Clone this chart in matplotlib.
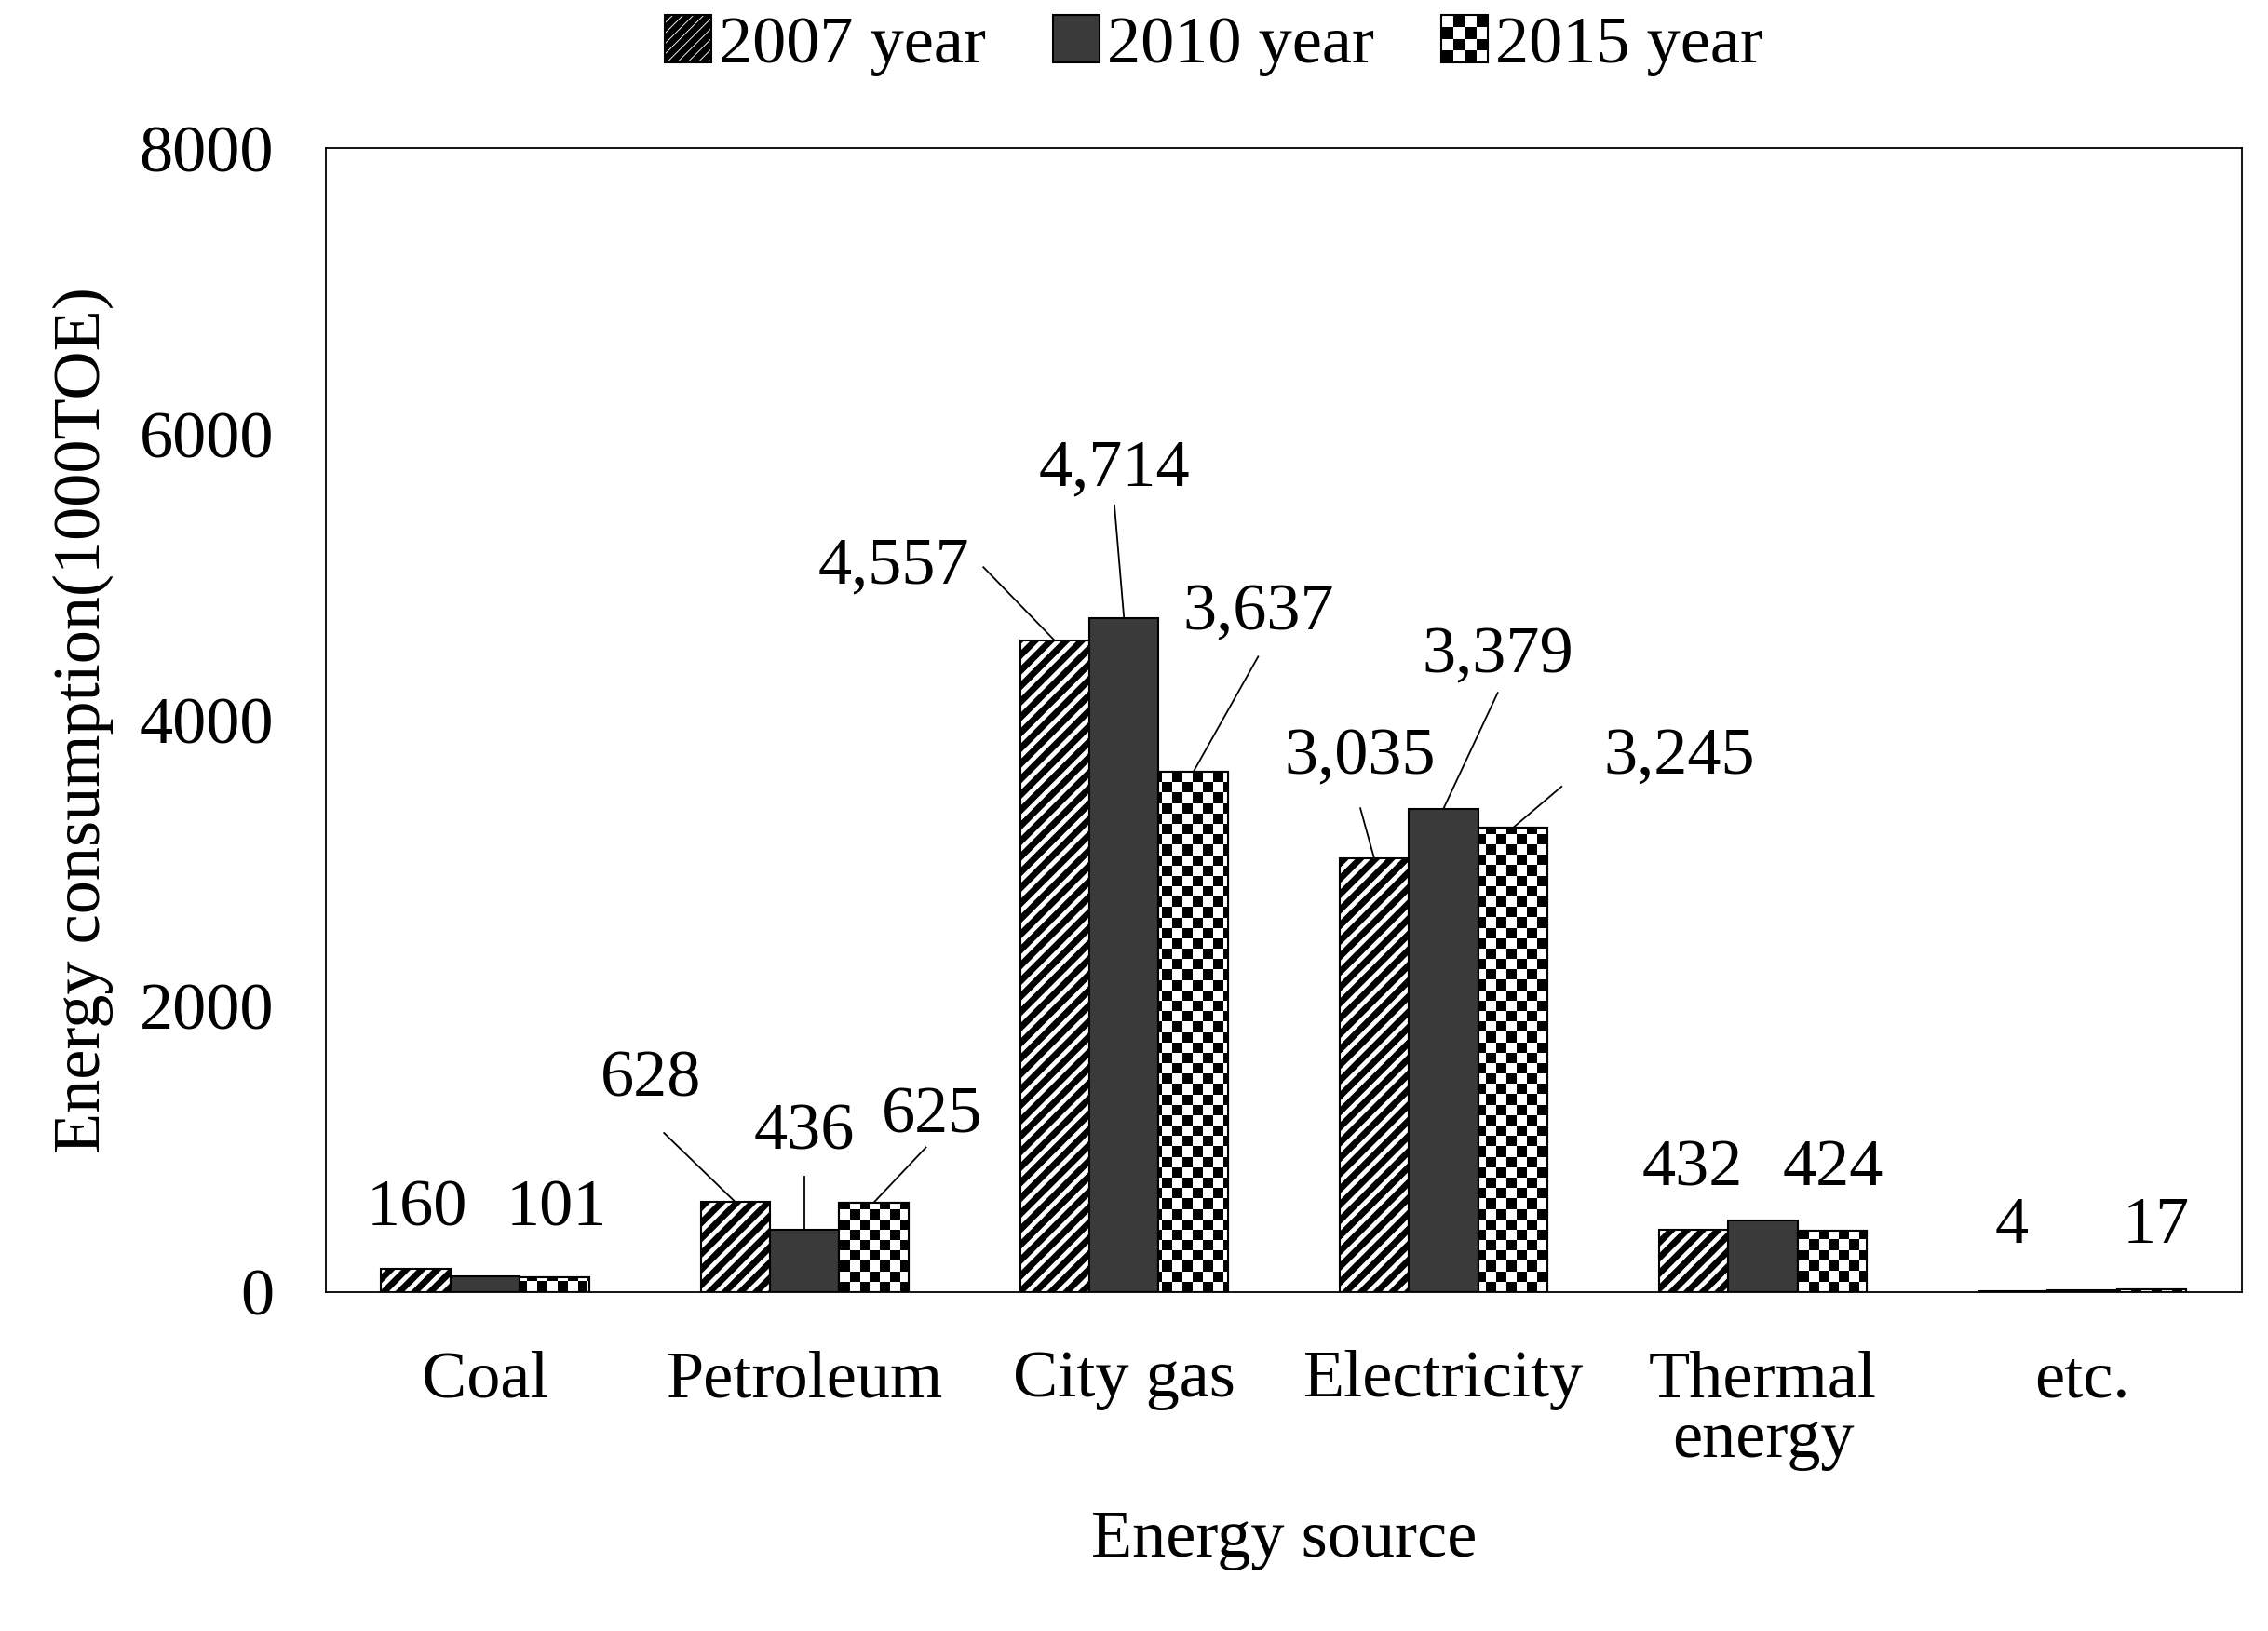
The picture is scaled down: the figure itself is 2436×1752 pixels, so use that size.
import matplotlib
matplotlib.use("Agg")
import matplotlib.pyplot as plt
import numpy as np
from matplotlib.patches import Rectangle
from matplotlib.legend_handler import HandlerPatch

categories = ["Coal", "Petroleum", "City gas", "Electricity", "Thermal\nenergy", "etc."]
years = ["2007 year", "2010 year", "2015 year"]
v2007 = [160, 628, 4557, 3035, 432, 4]
v2010 = [110, 436, 4714, 3379, 500, 10]
v2015 = [101, 625, 3637, 3245, 424, 17]
labels2007 = ["160", "628", "4,557", "3,035", "432", "4"]
labels2010 = [None, "436", "4,714", "3,379", None, None]
labels2015 = ["101", "625", "3,637", "3,245", "424", "17"]

plt.rcParams['font.family'] = ['Liberation Serif', 'DejaVu Serif']
plt.rcParams['hatch.linewidth'] = 5
fig = plt.figure(figsize=(24.36, 17.52), dpi=100)
ax = fig.add_axes([0.1435, 0.208, 0.845, 0.701])
FS = 52
w = 0.217
x = np.arange(len(categories))
ax.set_xlim(-0.5, 5.5)
ax.set_ylim(0, 8000)

ny, nx = 110, 190
chk = (np.add.outer(np.arange(ny), np.arange(nx)) % 2).astype(float)

b1 = ax.bar(x - w, v2007, w, color="white", edgecolor="black", hatch="//", linewidth=1.5)
b2 = ax.bar(x, v2010, w, color="#3a3a3a", edgecolor="black", linewidth=1.5)
b3 = ax.bar(x + w, v2015, w, color="white", edgecolor="black", linewidth=1.5)
for r in b3:
    im = ax.imshow(chk, cmap="gray", extent=(-0.5, 5.5, 0, 8000), aspect="auto",
                   interpolation="nearest", zorder=r.get_zorder() + 0.1)
    im.set_clip_path(r)
    ax.add_patch(Rectangle(r.get_xy(), r.get_width(), r.get_height(), fill=False,
                           edgecolor="black", linewidth=1.5, zorder=r.get_zorder() + 0.2))

# label positions (x, y) and leader-line start (or None), data coordinates
pos2007 = [(-0.215, 576, None), (0.52, 1485, (0.56, 1111)), (1.28, 5070, (1.56, 5070)),
           (2.74, 3737, (2.74, 3383)), (3.78, 858, None), (4.78, 454, None)]
pos2010 = [None, (1.0, 1110, (1.0, 808)), (1.97, 5757, (1.97, 5504)),
           (3.17, 4444, (3.17, 4191)), None, None]
pos2015 = [(0.225, 576, None), (1.40, 1230, (1.38, 1010)), (2.42, 4747, (2.42, 4444)),
           (3.74, 3737, (3.37, 3535)), (4.22, 858, None), (5.23, 454, None)]

for off, vals, labs, poss in [(-w, v2007, labels2007, pos2007), (0, v2010, labels2010, pos2010),
                              (w, v2015, labels2015, pos2015)]:
    for i in range(len(categories)):
        if labs[i] is None:
            continue
        px, py, start = poss[i]
        ax.text(px, py, labs[i], ha="center", va="center", fontsize=FS, zorder=6)
        if start is not None:
            ax.plot([start[0], x[i] + off], [start[1], vals[i]], color="black", lw=1.3, zorder=6)

ax.set_yticks([0, 2000, 4000, 6000, 8000])
ax.set_yticklabels(["0", "2000", "4000", "6000", "8000"], fontsize=FS)
ax.set_xticks(x)
ax.set_xticklabels(categories, fontsize=FS, linespacing=1.0)
ax.tick_params(length=0)
ax.tick_params(axis="y", pad=40)
ax.tick_params(axis="x", pad=45)
for s in ax.spines.values():
    s.set_linewidth(1.3)
ax.set_xlabel("Energy source", fontsize=FS, labelpad=30)
ax.set_ylabel("Energy consumption(1000TOE)", fontsize=FS, labelpad=20)

class CheckerHandler(HandlerPatch):
    def create_artists(self, legend, orig, xd, yd, width, height, fontsize, trans):
        arts = []
        side = min(width, height)
        x0 = xd + (width - side) / 2
        n = 4
        c = side / n
        for i in range(n):
            for j in range(n):
                if (i + j) % 2 == 0:
                    arts.append(Rectangle((x0 + i * c, yd + j * c), c, c, facecolor="black",
                                          edgecolor="none", transform=trans))
        arts.append(Rectangle((x0, yd), side, side, fill=False, edgecolor="black", lw=1.5, transform=trans))
        return arts

class SquareHandler(HandlerPatch):
    def create_artists(self, legend, orig, xd, yd, width, height, fontsize, trans):
        side = min(width, height)
        return [Rectangle((xd + (width - side) / 2, yd), side, side, facecolor=orig.get_facecolor(),
                          edgecolor="black", hatch=orig.get_hatch(), lw=1.5, transform=trans)]

h1 = Rectangle((0, 0), 1, 1, facecolor="white", hatch="///")
h2 = Rectangle((0, 0), 1, 1, facecolor="#3a3a3a")
h3 = Rectangle((0, 0), 1, 1, facecolor="white")
fig.legend([h1, h2, h3], years, loc="center", bbox_to_anchor=(0.535, 0.972), ncol=3,
           frameon=False, fontsize=FS, handlelength=0.7, handleheight=0.7, handletextpad=0.1,
           columnspacing=1.0,
           handler_map={h1: SquareHandler(), h2: SquareHandler(), h3: CheckerHandler()})

fig.savefig("out.png", dpi=100, facecolor="white")
